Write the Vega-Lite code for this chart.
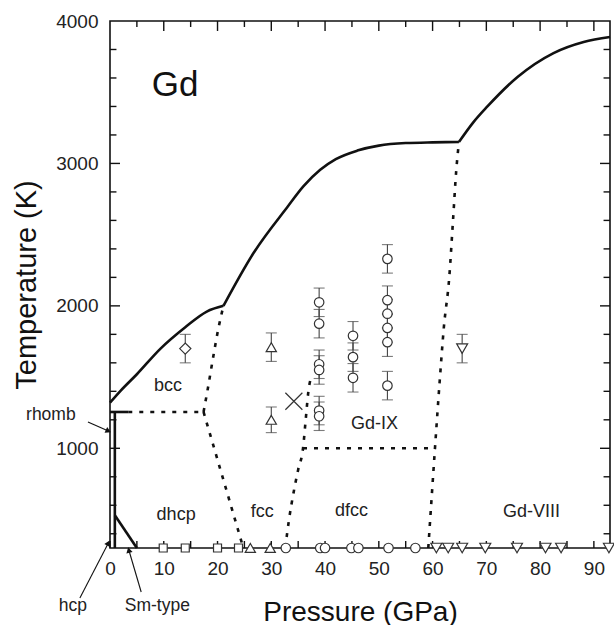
{
  "$schema": "https://vega.github.io/schema/vega-lite/v6.json",
  "autosize": {"type": "none"},
  "width": 500,
  "height": 527,
  "padding": {"left": 110, "top": 21, "right": 4, "bottom": 77},
  "background": "white",
  "config": {
    "view": {"stroke": "#111", "strokeWidth": 1.6},
    "axis": {
      "grid": false,
      "domain": false,
      "ticks": false,
      "labelFont": "Liberation Sans",
      "labelFontSize": 19,
      "labelColor": "#222",
      "labelFlush": false,
      "labelOverlap": false,
      "titleFont": "Liberation Sans",
      "titleFontWeight": "normal",
      "titleColor": "#111"
    }
  },
  "datasets": {
    "lines": [
      {"seg": "m1", "kind": "solid", "P": 0, "T": 1320},
      {"seg": "m1", "kind": "solid", "P": 2, "T": 1405},
      {"seg": "m1", "kind": "solid", "P": 5, "T": 1520},
      {"seg": "m1", "kind": "solid", "P": 9.4, "T": 1700},
      {"seg": "m1", "kind": "solid", "P": 14, "T": 1850},
      {"seg": "m1", "kind": "solid", "P": 18, "T": 1960},
      {"seg": "m1", "kind": "solid", "P": 21.1, "T": 2000},
      {"seg": "m2", "kind": "solid", "P": 21.1, "T": 2000},
      {"seg": "m2", "kind": "solid", "P": 26.7, "T": 2371},
      {"seg": "m2", "kind": "solid", "P": 33, "T": 2694},
      {"seg": "m2", "kind": "solid", "P": 36, "T": 2840},
      {"seg": "m2", "kind": "solid", "P": 39.1, "T": 2955},
      {"seg": "m2", "kind": "solid", "P": 42, "T": 3030},
      {"seg": "m2", "kind": "solid", "P": 46, "T": 3090},
      {"seg": "m2", "kind": "solid", "P": 50, "T": 3125},
      {"seg": "m2", "kind": "solid", "P": 55, "T": 3143},
      {"seg": "m2", "kind": "solid", "P": 60, "T": 3148},
      {"seg": "m2", "kind": "solid", "P": 64.9, "T": 3150},
      {"seg": "m3", "kind": "solid", "P": 64.9, "T": 3150},
      {"seg": "m3", "kind": "solid", "P": 67.5, "T": 3285},
      {"seg": "m3", "kind": "solid", "P": 70.2, "T": 3400},
      {"seg": "m3", "kind": "solid", "P": 75.8, "T": 3607},
      {"seg": "m3", "kind": "solid", "P": 82.5, "T": 3775},
      {"seg": "m3", "kind": "solid", "P": 88.1, "T": 3853},
      {"seg": "m3", "kind": "solid", "P": 93, "T": 3888},
      {"seg": "v", "kind": "solid", "P": 0.9, "T": 300},
      {"seg": "v", "kind": "solid", "P": 0.9, "T": 1255},
      {"seg": "h", "kind": "solid", "P": 0, "T": 1255},
      {"seg": "h", "kind": "solid", "P": 3.4, "T": 1255},
      {"seg": "sm", "kind": "solid", "P": 0.9, "T": 530},
      {"seg": "sm", "kind": "solid", "P": 5, "T": 300},
      {"seg": "d0", "kind": "dashed", "P": 3.4, "T": 1255},
      {"seg": "d0", "kind": "dashed", "P": 17.4, "T": 1255},
      {"seg": "d1", "kind": "dashed", "P": 17.4, "T": 1255},
      {"seg": "d1", "kind": "dashed", "P": 18.2, "T": 1420},
      {"seg": "d1", "kind": "dashed", "P": 19.1, "T": 1620},
      {"seg": "d1", "kind": "dashed", "P": 20.1, "T": 1830},
      {"seg": "d1", "kind": "dashed", "P": 21.1, "T": 2000},
      {"seg": "d2", "kind": "dashed", "P": 17.4, "T": 1255},
      {"seg": "d2", "kind": "dashed", "P": 24.8, "T": 300},
      {"seg": "d3", "kind": "dashed", "P": 32.6, "T": 300},
      {"seg": "d3", "kind": "dashed", "P": 33.3, "T": 500},
      {"seg": "d3", "kind": "dashed", "P": 34.2, "T": 700},
      {"seg": "d3", "kind": "dashed", "P": 35.0, "T": 850},
      {"seg": "d3", "kind": "dashed", "P": 35.9, "T": 1000},
      {"seg": "d3", "kind": "dashed", "P": 36.4, "T": 1200},
      {"seg": "d3", "kind": "dashed", "P": 36.9, "T": 1400},
      {"seg": "d3", "kind": "dashed", "P": 37.5, "T": 1510},
      {"seg": "d4", "kind": "dashed", "P": 35.9, "T": 1000},
      {"seg": "d4", "kind": "dashed", "P": 60.5, "T": 1000},
      {"seg": "d5", "kind": "dashed", "P": 59.2, "T": 300},
      {"seg": "d5", "kind": "dashed", "P": 59.8, "T": 640},
      {"seg": "d5", "kind": "dashed", "P": 60.5, "T": 1030},
      {"seg": "d5", "kind": "dashed", "P": 61.3, "T": 1460},
      {"seg": "d5", "kind": "dashed", "P": 62.1, "T": 1850},
      {"seg": "d5", "kind": "dashed", "P": 63.1, "T": 2200},
      {"seg": "d5", "kind": "dashed", "P": 63.8, "T": 2600},
      {"seg": "d5", "kind": "dashed", "P": 64.4, "T": 2950},
      {"seg": "d5", "kind": "dashed", "P": 64.9, "T": 3150}
    ],
    "pts": [
      {"sym": "diamond", "P": 14.0, "T": 1700, "lo": 1600, "hi": 1800},
      {"sym": "triangle-up", "P": 30.0, "T": 1710, "lo": 1610, "hi": 1810},
      {"sym": "triangle-up", "P": 30.0, "T": 1200, "lo": 1110, "hi": 1290},
      {"sym": "x", "P": 34.2, "T": 1330},
      {"sym": "circle", "P": 38.9, "T": 2025, "lo": 1925, "hi": 2125},
      {"sym": "circle", "P": 38.9, "T": 1875, "lo": 1775, "hi": 1975},
      {"sym": "circle", "P": 38.9, "T": 1590, "lo": 1490, "hi": 1690},
      {"sym": "circle", "P": 38.9, "T": 1550, "lo": 1450, "hi": 1650},
      {"sym": "circle", "P": 38.9, "T": 1265, "lo": 1165, "hi": 1365},
      {"sym": "circle", "P": 38.9, "T": 1225, "lo": 1125, "hi": 1325},
      {"sym": "circle", "P": 45.2, "T": 1790, "lo": 1690, "hi": 1890},
      {"sym": "circle", "P": 45.2, "T": 1640, "lo": 1540, "hi": 1740},
      {"sym": "circle", "P": 45.2, "T": 1495, "lo": 1395, "hi": 1595},
      {"sym": "circle", "P": 51.6, "T": 2330, "lo": 2230, "hi": 2430},
      {"sym": "circle", "P": 51.6, "T": 2040, "lo": 1940, "hi": 2140},
      {"sym": "circle", "P": 51.6, "T": 1945, "lo": 1845, "hi": 2045},
      {"sym": "circle", "P": 51.6, "T": 1845, "lo": 1745, "hi": 1945},
      {"sym": "circle", "P": 51.6, "T": 1745, "lo": 1645, "hi": 1845},
      {"sym": "circle", "P": 51.6, "T": 1440, "lo": 1340, "hi": 1540},
      {"sym": "triangle-down", "P": 65.5, "T": 1700, "lo": 1600, "hi": 1800},
      {"sym": "square", "P": 9.9, "T": 300},
      {"sym": "square", "P": 14.0, "T": 300},
      {"sym": "square", "P": 20.0, "T": 300},
      {"sym": "square", "P": 23.9, "T": 300},
      {"sym": "triangle-up", "P": 26.1, "T": 300},
      {"sym": "triangle-up", "P": 29.8, "T": 300},
      {"sym": "circle", "P": 32.7, "T": 300},
      {"sym": "circle", "P": 39.1, "T": 300},
      {"sym": "circle", "P": 40.0, "T": 300},
      {"sym": "circle", "P": 44.9, "T": 300},
      {"sym": "circle", "P": 46.2, "T": 300},
      {"sym": "circle", "P": 51.8, "T": 300},
      {"sym": "circle", "P": 56.8, "T": 300},
      {"sym": "triangle-down", "P": 60.7, "T": 300},
      {"sym": "triangle-down", "P": 62.9, "T": 300},
      {"sym": "triangle-down", "P": 65.5, "T": 300},
      {"sym": "triangle-down", "P": 69.8, "T": 300},
      {"sym": "triangle-down", "P": 75.7, "T": 300},
      {"sym": "triangle-down", "P": 81.0, "T": 300},
      {"sym": "triangle-down", "P": 83.9, "T": 300},
      {"sym": "triangle-down", "P": 92.8, "T": 300}
    ],
    "labels": [
      {"kind": "title", "P": 12.1, "T": 3551, "text": "Gd"},
      {"kind": "phase", "P": 10.8, "T": 1437, "text": "bcc"},
      {"kind": "phase", "P": 12.3, "T": 532, "text": "dhcp"},
      {"kind": "phase", "P": 28.3, "T": 553, "text": "fcc"},
      {"kind": "phase", "P": 44.9, "T": 560, "text": "dfcc"},
      {"kind": "phase", "P": 78.4, "T": 553, "text": "Gd-VIII"},
      {"kind": "phase", "P": 49.2, "T": 1170, "text": "Gd-IX"},
      {"kind": "note", "P": -11, "T": 1234, "text": "rhomb"},
      {"kind": "note", "P": -6.9, "T": -107, "text": "hcp"},
      {"kind": "note", "P": 8.8, "T": -107, "text": "Sm-type"}
    ],
    "arrows": [
      {"name": "rhomb", "P": -4.1, "T": 1185, "P2": -0.3, "T2": 1121},
      {"name": "hcp", "P": -5.6, "T": -51, "P2": -0.3, "T2": 335},
      {"name": "sm", "P": 5.8, "T": -9, "P2": 3.5, "T2": 286}
    ],
    "frameticks": [
      {"P": 0, "P2": 0, "T": 300, "T2": 349}, {"P": 5, "P2": 5, "T": 300, "T2": 349},
      {"P": 10, "P2": 10, "T": 300, "T2": 349}, {"P": 15, "P2": 15, "T": 300, "T2": 349},
      {"P": 20, "P2": 20, "T": 300, "T2": 349}, {"P": 25, "P2": 25, "T": 300, "T2": 349},
      {"P": 30, "P2": 30, "T": 300, "T2": 349}, {"P": 35, "P2": 35, "T": 300, "T2": 349},
      {"P": 40, "P2": 40, "T": 300, "T2": 349}, {"P": 45, "P2": 45, "T": 300, "T2": 349},
      {"P": 50, "P2": 50, "T": 300, "T2": 349}, {"P": 55, "P2": 55, "T": 300, "T2": 349},
      {"P": 60, "P2": 60, "T": 300, "T2": 349}, {"P": 65, "P2": 65, "T": 300, "T2": 349},
      {"P": 70, "P2": 70, "T": 300, "T2": 349}, {"P": 75, "P2": 75, "T": 300, "T2": 349},
      {"P": 80, "P2": 80, "T": 300, "T2": 349}, {"P": 85, "P2": 85, "T": 300, "T2": 349},
      {"P": 90, "P2": 90, "T": 300, "T2": 349},
      {"P": 5, "P2": 5, "T": 4000, "T2": 3958}, {"P": 10, "P2": 10, "T": 4000, "T2": 3930},
      {"P": 15, "P2": 15, "T": 4000, "T2": 3958}, {"P": 20, "P2": 20, "T": 4000, "T2": 3930},
      {"P": 25, "P2": 25, "T": 4000, "T2": 3958}, {"P": 30, "P2": 30, "T": 4000, "T2": 3930},
      {"P": 35, "P2": 35, "T": 4000, "T2": 3958}, {"P": 40, "P2": 40, "T": 4000, "T2": 3930},
      {"P": 45, "P2": 45, "T": 4000, "T2": 3958}, {"P": 50, "P2": 50, "T": 4000, "T2": 3930},
      {"P": 55, "P2": 55, "T": 4000, "T2": 3958}, {"P": 60, "P2": 60, "T": 4000, "T2": 3930},
      {"P": 65, "P2": 65, "T": 4000, "T2": 3958}, {"P": 70, "P2": 70, "T": 4000, "T2": 3930},
      {"P": 75, "P2": 75, "T": 4000, "T2": 3958}, {"P": 80, "P2": 80, "T": 4000, "T2": 3930},
      {"P": 85, "P2": 85, "T": 4000, "T2": 3958}, {"P": 90, "P2": 90, "T": 4000, "T2": 3930},
      {"P": 0, "P2": 1.2, "T": 400, "T2": 400}, {"P": 0, "P2": 1.2, "T": 600, "T2": 600},
      {"P": 0, "P2": 1.2, "T": 800, "T2": 800}, {"P": 0, "P2": 1.86, "T": 1000, "T2": 1000},
      {"P": 0, "P2": 1.2, "T": 1200, "T2": 1200}, {"P": 0, "P2": 1.2, "T": 1400, "T2": 1400},
      {"P": 0, "P2": 1.2, "T": 1600, "T2": 1600}, {"P": 0, "P2": 1.2, "T": 1800, "T2": 1800},
      {"P": 0, "P2": 1.86, "T": 2000, "T2": 2000}, {"P": 0, "P2": 1.2, "T": 2200, "T2": 2200},
      {"P": 0, "P2": 1.2, "T": 2400, "T2": 2400}, {"P": 0, "P2": 1.2, "T": 2600, "T2": 2600},
      {"P": 0, "P2": 1.2, "T": 2800, "T2": 2800}, {"P": 0, "P2": 1.86, "T": 3000, "T2": 3000},
      {"P": 0, "P2": 1.2, "T": 3200, "T2": 3200}, {"P": 0, "P2": 1.2, "T": 3400, "T2": 3400},
      {"P": 0, "P2": 1.2, "T": 3600, "T2": 3600}, {"P": 0, "P2": 1.2, "T": 3800, "T2": 3800},
      {"P": 93, "P2": 91.8, "T": 400, "T2": 400}, {"P": 93, "P2": 91.8, "T": 600, "T2": 600},
      {"P": 93, "P2": 91.8, "T": 800, "T2": 800}, {"P": 93, "P2": 91.14, "T": 1000, "T2": 1000},
      {"P": 93, "P2": 91.8, "T": 1200, "T2": 1200}, {"P": 93, "P2": 91.8, "T": 1400, "T2": 1400},
      {"P": 93, "P2": 91.8, "T": 1600, "T2": 1600}, {"P": 93, "P2": 91.8, "T": 1800, "T2": 1800},
      {"P": 93, "P2": 91.14, "T": 2000, "T2": 2000}, {"P": 93, "P2": 91.8, "T": 2200, "T2": 2200},
      {"P": 93, "P2": 91.8, "T": 2400, "T2": 2400}, {"P": 93, "P2": 91.8, "T": 2600, "T2": 2600},
      {"P": 93, "P2": 91.8, "T": 2800, "T2": 2800}, {"P": 93, "P2": 91.14, "T": 3000, "T2": 3000},
      {"P": 93, "P2": 91.8, "T": 3200, "T2": 3200}, {"P": 93, "P2": 91.8, "T": 3400, "T2": 3400},
      {"P": 93, "P2": 91.8, "T": 3600, "T2": 3600}, {"P": 93, "P2": 91.8, "T": 3800, "T2": 3800}
    ]
  },
  "resolve": {"axis": {"x": "independent", "y": "independent"}},
  "layer": [
    {
      "data": {"name": "lines"},
      "transform": [{"filter": "datum.kind === 'solid'"}],
      "mark": {"type": "line", "interpolate": "monotone", "color": "#111", "strokeWidth": 2.6, "clip": false},
      "encoding": {
        "x": {"field": "P", "type": "quantitative", "scale": {"domain": [0, 93], "nice": false, "zero": false},
          "axis": {"orient": "bottom", "values": [0, 10, 20, 30, 40, 50, 60, 70, 80, 90], "labelPadding": 11, "title": "Pressure (GPa)", "titleFontSize": 28, "titlePadding": 20}},
        "y": {"field": "T", "type": "quantitative", "scale": {"domain": [300, 4000], "nice": false, "zero": false},
          "axis": {"orient": "left", "values": [1000, 2000, 3000, 4000], "format": "d", "labelPadding": 12, "title": "Temperature (K)", "titleFontSize": 29, "titlePadding": 14}},
        "detail": {"field": "seg"}
      }
    },
    {
      "data": {"name": "lines"},
      "transform": [{"filter": "datum.kind === 'dashed'"}],
      "mark": {"type": "line", "interpolate": "monotone", "color": "#111", "strokeWidth": 2.6, "strokeDash": [4, 7], "clip": false},
      "encoding": {
        "x": {"field": "P", "type": "quantitative", "axis": null},
        "y": {"field": "T", "type": "quantitative", "axis": null},
        "detail": {"field": "seg"}
      }
    },
    {
      "data": {"name": "frameticks"},
      "mark": {"type": "rule", "color": "#111", "strokeWidth": 1.4, "clip": false},
      "encoding": {
        "x": {"field": "P", "type": "quantitative", "axis": null},
        "y": {"field": "T", "type": "quantitative", "axis": null},
        "x2": {"field": "P2"},
        "y2": {"field": "T2"}
      }
    },
    {
      "data": {"name": "pts"},
      "transform": [{"filter": "isValid(datum.lo)"}],
      "mark": {"type": "rule", "color": "#444", "strokeWidth": 1.1},
      "encoding": {
        "x": {"field": "P", "type": "quantitative", "axis": null},
        "y": {"field": "lo", "type": "quantitative", "axis": null},
        "y2": {"field": "hi"}
      }
    },
    {
      "data": {"name": "pts"},
      "transform": [{"filter": "isValid(datum.lo)"}],
      "mark": {"type": "tick", "orient": "horizontal", "color": "#444", "size": 11, "thickness": 1.1},
      "encoding": {
        "x": {"field": "P", "type": "quantitative", "axis": null},
        "y": {"field": "lo", "type": "quantitative", "axis": null}
      }
    },
    {
      "data": {"name": "pts"},
      "transform": [{"filter": "isValid(datum.hi)"}],
      "mark": {"type": "tick", "orient": "horizontal", "color": "#444", "size": 11, "thickness": 1.1},
      "encoding": {
        "x": {"field": "P", "type": "quantitative", "axis": null},
        "y": {"field": "hi", "type": "quantitative", "axis": null}
      }
    },
    {
      "data": {"name": "pts"},
      "mark": {"type": "point", "filled": false, "fill": "white", "fillOpacity": 1, "stroke": "#333", "strokeWidth": 1.2, "opacity": 1, "clip": false},
      "encoding": {
        "x": {"field": "P", "type": "quantitative", "axis": null},
        "y": {"field": "T", "type": "quantitative", "axis": null},
        "shape": {"field": "sym", "type": "nominal", "legend": null,
          "scale": {"domain": ["circle", "square", "triangle-up", "triangle-down", "diamond", "x"],
                    "range": ["circle", "square", "triangle-up", "triangle-down", "diamond", "M-1,-1L1,1M1,-1L-1,1"]}},
        "size": {"condition": [
          {"test": "datum.sym === 'x'", "value": 289},
          {"test": "datum.sym === 'square'", "value": 64},
          {"test": "datum.sym === 'diamond'", "value": 125},
          {"test": "datum.sym === 'triangle-down'", "value": 120},
          {"test": "datum.sym === 'triangle-up'", "value": 105}
        ], "value": 90}
      }
    },
    {
      "data": {"name": "arrows"},
      "mark": {"type": "rule", "color": "#111", "strokeWidth": 1.1, "clip": false},
      "encoding": {
        "x": {"field": "P", "type": "quantitative", "axis": null},
        "y": {"field": "T", "type": "quantitative", "axis": null},
        "x2": {"field": "P2"},
        "y2": {"field": "T2"}
      }
    },
    {
      "data": {"name": "arrows"},
      "transform": [{"filter": "datum.name === 'rhomb'"}],
      "mark": {"type": "point", "shape": "triangle-up", "filled": true, "color": "#111", "size": 40, "angle": 114, "opacity": 1, "clip": false},
      "encoding": {
        "x": {"field": "P2", "type": "quantitative", "axis": null},
        "y": {"field": "T2", "type": "quantitative", "axis": null}
      }
    },
    {
      "data": {"name": "arrows"},
      "transform": [{"filter": "datum.name === 'hcp'"}],
      "mark": {"type": "point", "shape": "triangle-up", "filled": true, "color": "#111", "size": 40, "angle": 28, "opacity": 1, "clip": false},
      "encoding": {
        "x": {"field": "P2", "type": "quantitative", "axis": null},
        "y": {"field": "T2", "type": "quantitative", "axis": null}
      }
    },
    {
      "data": {"name": "arrows"},
      "transform": [{"filter": "datum.name === 'sm'"}],
      "mark": {"type": "point", "shape": "triangle-up", "filled": true, "color": "#111", "size": 40, "angle": 346, "opacity": 1, "clip": false},
      "encoding": {
        "x": {"field": "P2", "type": "quantitative", "axis": null},
        "y": {"field": "T2", "type": "quantitative", "axis": null}
      }
    },
    {
      "data": {"name": "labels"},
      "transform": [{"filter": "datum.kind === 'title'"}],
      "mark": {"type": "text", "font": "Liberation Sans", "fontSize": 35, "color": "#111", "align": "center", "baseline": "middle"},
      "encoding": {
        "x": {"field": "P", "type": "quantitative", "axis": null},
        "y": {"field": "T", "type": "quantitative", "axis": null},
        "text": {"field": "text"}
      }
    },
    {
      "data": {"name": "labels"},
      "transform": [{"filter": "datum.kind === 'phase'"}],
      "mark": {"type": "text", "font": "Liberation Sans", "fontSize": 18, "color": "#222", "align": "center", "baseline": "middle"},
      "encoding": {
        "x": {"field": "P", "type": "quantitative", "axis": null},
        "y": {"field": "T", "type": "quantitative", "axis": null},
        "text": {"field": "text"}
      }
    },
    {
      "data": {"name": "labels"},
      "transform": [{"filter": "datum.kind === 'note'"}],
      "mark": {"type": "text", "font": "Liberation Sans", "fontSize": 17.5, "color": "#222", "align": "center", "baseline": "middle", "clip": false},
      "encoding": {
        "x": {"field": "P", "type": "quantitative", "axis": null},
        "y": {"field": "T", "type": "quantitative", "axis": null},
        "text": {"field": "text"}
      }
    }
  ]
}
